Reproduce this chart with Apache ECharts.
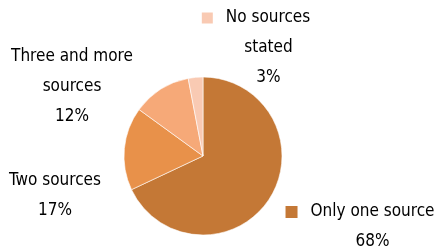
<!DOCTYPE html>
<html>
<head>
<meta charset="utf-8">
<script src="https://cdn.jsdelivr.net/npm/echarts@6/dist/echarts.min.js"></script>
<style>
html, body { margin: 0; padding: 0; background: #fff; }
#chart { width: 435px; height: 247px; }
</style>
</head>
<body>
<div id="chart"></div>
<script>
var categories = ['Only one source', 'Two sources', 'Three and more sources', 'No sources stated'];
var shares = [68, 17, 12, 3];
var sliceColors = ['#C47836', '#E8914A', '#F6A978', '#F9CAB3'];

// label text, split over lines like the original
var labelLines = [
    ['Only one source'],
    ['Two sources'],
    ['Three and more', 'sources'],
    ['No sources', 'stated']
];
// which labels carry a small colour key in front
var withKey = [true, false, false, true];
// where each label block sits (centre)
var labelPos = [[360, 227], [55, 196], [72, 87], [256, 48]];

var chart = echarts.init(document.getElementById('chart'));

var pieData = categories.map(function (name, i) {
    return {
        name: name,
        value: shares[i],
        itemStyle: { color: sliceColors[i] }
    };
});

var FONT = '"DejaVu Sans Condensed", "Liberation Sans", sans-serif';

var option = {
    animation: false,
    series: [{
        type: 'pie',
        center: [203, 156],
        radius: [0, 79],
        startAngle: 90,
        clockwise: true,
        itemStyle: { borderColor: '#fff', borderWidth: 0.6 },
        label: {
            show: true,
            position: 'outside',
            align: 'center',
            overflow: 'none',
            fontFamily: FONT,
            fontSize: 17,
            color: '#000',
            lineHeight: 30,
            formatter: function (p) {
                var i = p.dataIndex;
                var lines = labelLines[i].slice();
                lines.push(p.value + '%');
                return lines.map(function (t, k) {
                    if (withKey[i]) {
                        if (k === 0) return '{key' + i + '|}{gap|}{t|' + t + '}';
                        return '{pad|' + t + '}';
                    }
                    return '{t|' + t + '}';
                }).join('\n');
            },
            rich: {
                t: { fontFamily: FONT, fontSize: 17, lineHeight: 30, color: '#000' },
                pad: { fontFamily: FONT, fontSize: 17, lineHeight: 30, color: '#000', padding: [0, 0, 0, 25] },
                gap: { width: 13 },
                key0: { width: 12, height: 12, backgroundColor: sliceColors[0] },
                key3: { width: 11, height: 11, backgroundColor: sliceColors[3] }
            }
        },
        labelLine: { show: false },
        labelLayout: function (params) {
            var pos = labelPos[params.dataIndex];
            return {
                x: pos[0],
                y: pos[1],
                align: 'center',
                verticalAlign: 'middle'
            };
        },
        data: pieData
    }]
};

chart.setOption(option);
</script>
</body>
</html>
